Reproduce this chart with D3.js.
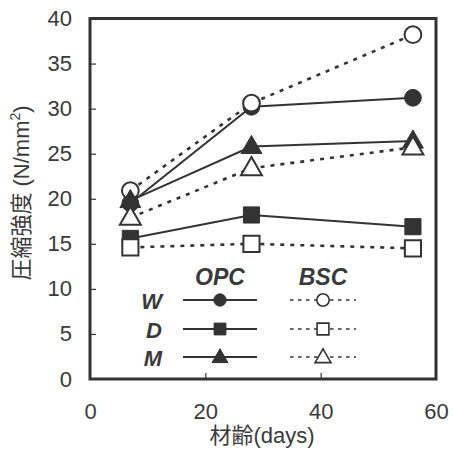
<!DOCTYPE html>
<html>
<head>
<meta charset="utf-8">
<script src="https://cdn.jsdelivr.net/npm/d3@7"></script>
<style>
  html, body { margin: 0; padding: 0; background: #ffffff; }
  svg { display: block; }
  text { font-family: "Liberation Sans", Arial, "Noto Sans CJK JP", sans-serif; fill: #3a3a3a; }
</style>
</head>
<body>
<svg id="chart" width="453" height="450"></svg>
<script>
// Curing age (days) at which specimens were tested
const days = [7, 28, 56];

// Compressive strength (N/mm²) per mix: OPC = ordinary cement, BSC = blast-furnace slag cement
const W_OPC = [19.5, 30.2, 31.2];
const W_BSC = [20.9, 30.6, 38.2];
const D_OPC = [15.6, 18.2, 16.9];
const D_BSC = [14.6, 15.0, 14.5];
const M_OPC = [19.8, 25.8, 26.4];
const M_BSC = [17.9, 23.4, 25.7];

const xTicks = [0, 20, 40, 60];
const yTicks = [0, 5, 10, 15, 20, 25, 30, 35, 40];

const mixes = ["W", "D", "M"];
const groups = ["OPC", "BSC"];

const series = [
  { mix: "W", group: "OPC", values: W_OPC, shape: "circle" },
  { mix: "W", group: "BSC", values: W_BSC, shape: "circle" },
  { mix: "D", group: "OPC", values: D_OPC, shape: "square" },
  { mix: "D", group: "BSC", values: D_BSC, shape: "square" },
  { mix: "M", group: "OPC", values: M_OPC, shape: "triangle" },
  { mix: "M", group: "BSC", values: M_BSC, shape: "triangle" }
];

const ink = "#333333";
const cjkFont = "'Liberation Sans', Arial, 'Noto Sans CJK JP', sans-serif";
const svg = d3.select("#chart");

const x = d3.scaleLinear().domain([0, 60]).range([90, 436]);
const y = d3.scaleLinear().domain([0, 40]).range([379, 18.5]);

// symbol generators (size = area in px²)
function symbolFor(shape, size) {
  const type = shape === "circle" ? d3.symbolCircle
             : shape === "square" ? d3.symbolSquare
             : d3.symbolTriangle;
  return d3.symbol().type(type).size(size)();
}

// Axes with inward ticks; labels set well away from the frame
const xAxis = d3.axisBottom(x).tickValues(xTicks).tickSize(-6).tickPadding(24);
const yAxis = d3.axisLeft(y).tickValues(yTicks).tickSize(-6).tickPadding(18);

const gx = svg.append("g").attr("transform", `translate(0,${y(0)})`).call(xAxis);
const gy = svg.append("g").attr("transform", `translate(${x(0)},0)`).call(yAxis);
[gx, gy].forEach(g => {
  g.select(".domain").remove();
  g.selectAll(".tick line").attr("stroke", ink).attr("stroke-width", 1.2);
  g.selectAll(".tick text")
    .attr("font-size", 22)
    .style("font-family", "'Liberation Sans', Arial, sans-serif")
    .attr("fill", "#3a3a3a");
});
gx.selectAll(".tick line").filter(d => d === 0 || d === 60).remove();
gy.selectAll(".tick line").filter(d => d === 0 || d === 40).remove();

// Plot frame
svg.append("rect")
  .attr("x", x(0)).attr("y", y(40))
  .attr("width", x(60) - x(0)).attr("height", y(0) - y(40))
  .attr("fill", "none").attr("stroke", ink).attr("stroke-width", 3);

// Axis titles
svg.append("text")
  .attr("x", (x(0) + x(60)) / 2 - 1).attr("y", 443)
  .attr("text-anchor", "middle").attr("font-size", 22)
  .style("font-family", cjkFont)
  .text("材齢(days)");

const yTitle = svg.append("text")
  .attr("transform", "translate(29,193) rotate(-90)")
  .attr("text-anchor", "middle").attr("font-size", 22)
  .style("font-family", cjkFont);
yTitle.append("tspan").text("圧縮強度 (N/mm");
yTitle.append("tspan").attr("font-size", 14).attr("dy", -9).text("2");
yTitle.append("tspan").attr("dy", 9).text(")");

// Lines then markers, series by series
const line = d3.line().x((d, i) => x(days[i])).y(d => y(d));

series.forEach(s => {
  const g = svg.append("g");
  g.append("path")
    .datum(s.values)
    .attr("d", line)
    .attr("fill", "none")
    .attr("stroke", ink)
    .attr("stroke-width", s.group === "OPC" ? 2 : 2.6)
    .attr("stroke-dasharray", s.group === "OPC" ? null : "4,6");
  const size = s.shape === "circle" ? 220 : s.shape === "square" ? 260 : 190;
  g.selectAll("path.mark")
    .data(s.values)
    .join("path")
    .attr("class", "mark")
    .attr("d", symbolFor(s.shape, size))
    .attr("transform", (d, i) => `translate(${x(days[i])},${y(d) + (s.shape === "triangle" ? 1 : 0)})`)
    .attr("fill", s.group === "OPC" ? ink : "#ffffff")
    .attr("stroke", ink)
    .attr("stroke-width", s.group === "OPC" ? 1 : 2);
});

// Legend
const legend = svg.append("g");
const colX = { OPC: 220, BSC: 323 };
const rowY = { W: 300, D: 329, M: 357 };

groups.forEach(gname => {
  legend.append("text")
    .attr("x", colX[gname]).attr("y", 285)
    .attr("text-anchor", "middle")
    .attr("font-size", 23).attr("font-weight", "bold").attr("font-style", "italic")
    .text(gname);
});

mixes.forEach(m => {
  legend.append("text")
    .attr("x", 162).attr("y", rowY[m] + 9)
    .attr("text-anchor", "end")
    .attr("font-size", 22).attr("font-weight", "bold").attr("font-style", "italic")
    .text(m);
});

series.forEach(s => {
  const cx = colX[s.group];
  const cy = rowY[s.mix];
  const half = s.group === "OPC" ? 37 : 33;
  legend.append("line")
    .attr("x1", cx - half).attr("x2", cx + half)
    .attr("y1", cy).attr("y2", cy)
    .attr("stroke", ink)
    .attr("stroke-width", s.group === "OPC" ? 2 : 1.6)
    .attr("stroke-dasharray", s.group === "OPC" ? null : "3.5,4.5");
  const size = s.shape === "circle" ? 120 : s.shape === "square" ? 140 : 110;
  legend.append("path")
    .attr("d", symbolFor(s.shape, size))
    .attr("transform", `translate(${cx},${cy + (s.shape === "triangle" ? 1 : 0)})`)
    .attr("fill", s.group === "OPC" ? ink : "#ffffff")
    .attr("stroke", ink)
    .attr("stroke-width", s.group === "OPC" ? 1 : 1.6);
});
</script>
</body>
</html>
